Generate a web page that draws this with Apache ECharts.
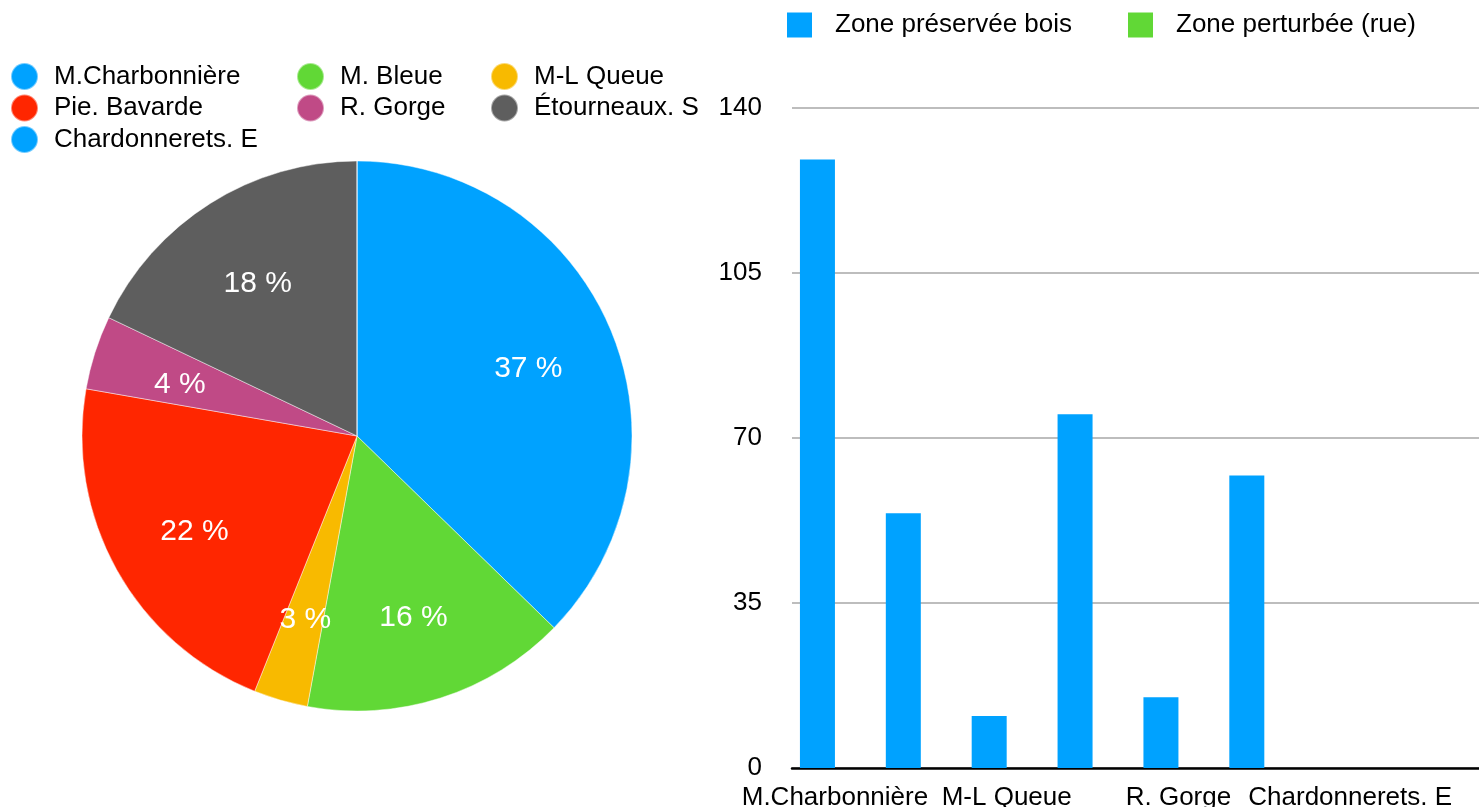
<!DOCTYPE html>
<html>
<head>
<meta charset="utf-8">
<title>Oiseaux</title>
<script src="https://cdn.jsdelivr.net/npm/echarts@6/dist/echarts.min.js"></script>
<style>
    html, body { margin: 0; padding: 0; background: #fff; }
    #main { width: 1479px; height: 807px; }
</style>
</head>
<body>
<div id="main"></div>
<script>
// especes (ordre du tableau)
var especes = ['M.Charbonnière', 'M. Bleue', 'M-L Queue', 'Pie. Bavarde', 'R. Gorge', 'Étourneaux. S', 'Chardonnerets. E'];
var couleurs = ['#00a2ff', '#61d836', '#f8ba00', '#ff2600', '#c04a86', '#5e5e5e', '#00a2ff'];
// comptages zone bois
var zoneBois = [129, 54, 11, 75, 15, 62, 0];
// zone rue : rien de saisi
var zoneRue = [0, 0, 0, 0, 0, 0, 0];
// categories du graphique en barres (la derniere est vide)
var categories = especes.concat(['']);
var yTicks = [0, 35, 70, 105, 140];

var police = 'Liberation Sans';

var pieData = [];
for (var i = 0; i < especes.length; i++) {
    pieData.push({name: especes[i], value: zoneBois[i], itemStyle: {color: couleurs[i]}});
}

//legende du camembert en 3 colonnes
function legendeCol(noms, left) {
    return {
        data: noms,
        orient: 'vertical',
        left: left,
        top: 62,
        padding: 0,
        icon: 'circle',
        itemWidth: 27,
        itemHeight: 27,
        itemGap: 2.5,
        selectedMode: false,
        textStyle: {fontFamily: police, fontSize: 26, color: '#000', padding: [0, 0, 0, 11]}
    };
}

var chart = echarts.init(document.getElementById('main'));
var option = {
    animation: false,
    textStyle: {fontFamily: police},
    legend: [
        legendeCol(['M.Charbonnière', 'Pie. Bavarde', 'Chardonnerets. E'], 10),
        legendeCol(['M. Bleue', 'R. Gorge'], 296),
        legendeCol(['M-L Queue', 'Étourneaux. S'], 490),
        {
            data: ['Zone préservée bois', 'Zone perturbée (rue)'],
            left: 787,
            top: 12,
            padding: 0,
            icon: 'rect',
            itemWidth: 25,
            itemHeight: 25,
            itemGap: 56,
            selectedMode: false,
            textStyle: {fontFamily: police, fontSize: 26, color: '#000', padding: [0, 0, 0, 18]}
        }
    ],
    grid: {left: 792, right: 0, top: 107.5, bottom: 39, containLabel: false, outerBoundsMode: 'none'},
    xAxis: {
        type: 'category',
        data: categories,
        axisTick: {show: false},
        axisLine: {lineStyle: {color: '#000', width: 2.5}},
        axisLabel: {interval: 1, color: '#000', fontSize: 26, fontFamily: police, margin: 17}
    },
    yAxis: {
        type: 'value',
        min: yTicks[0],
        max: yTicks[yTicks.length - 1],
        interval: 35,
        axisLine: {show: false},
        axisTick: {show: false},
        axisLabel: {color: '#000', fontSize: 26, fontFamily: police, margin: 30},
        splitLine: {lineStyle: {color: '#bdbdbd', width: 2}}
    },
    series: [
        {
            type: 'pie',
            center: [357, 436],
            radius: [0, 275],
            startAngle: 90,
            clockwise: true,
            data: pieData,
            label: {show: false},
            labelLine: {show: false},
            itemStyle: {borderColor: 'rgba(255,255,255,0.45)', borderWidth: 1},
            emphasis: {disabled: true}
        },
        {
            //anneau invisible juste pour placer les pourcentages plus loin du centre
            type: 'pie',
            center: [357, 436],
            radius: [91, 275],
            startAngle: 90,
            clockwise: true,
            silent: true,
            data: pieData.map(function (d) {
                return {name: d.name, value: d.value, itemStyle: {color: 'rgba(0,0,0,0)'}};
            }),
            itemStyle: {color: 'rgba(0,0,0,0)', borderWidth: 0},
            labelLine: {show: false},
            label: {
                show: true,
                position: 'inside',
                color: '#fff',
                fontSize: 30,
                fontFamily: police,
                offset: [0, 5],
                formatter: function (p) {
                    if (!p.value) return '';
                    return Math.round(p.percent) + ' %';
                }
            }
        },
        {
            name: 'Zone préservée bois',
            type: 'bar',
            data: zoneBois.concat([0]),
            barWidth: 35,
            barGap: '0%',
            itemStyle: {color: '#00a2ff'},
            emphasis: {disabled: true}
        },
        {
            name: 'Zone perturbée (rue)',
            type: 'bar',
            data: zoneRue.concat([0]),
            barWidth: 35,
            itemStyle: {color: '#61d836'},
            emphasis: {disabled: true}
        }
    ]
};
chart.setOption(option);
</script>
</body>
</html>
